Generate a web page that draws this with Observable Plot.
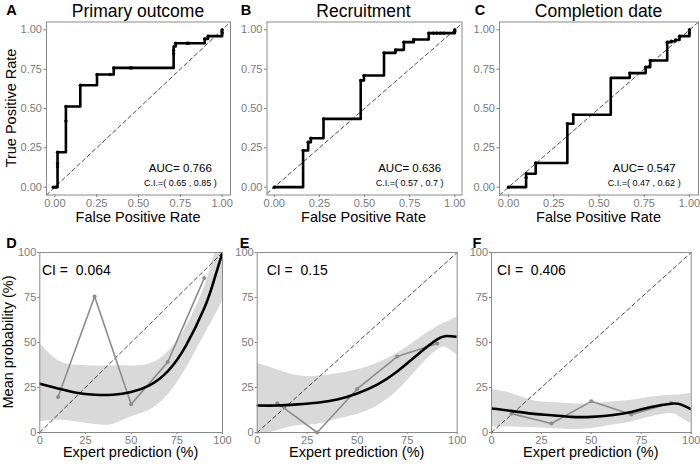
<!DOCTYPE html>
<html><head><meta charset="utf-8">
<script src="https://cdn.jsdelivr.net/npm/d3@7"></script>
<script src="https://cdn.jsdelivr.net/npm/@observablehq/plot@0.6"></script>
<style>
body{margin:0;background:#fff;}
#root{position:relative;width:700px;height:464px;overflow:hidden;background:#fff;}
</style></head><body><div id="root"></div>
<script>
// ---------- DATA ----------
const rocTicks = [0, 0.25, 0.5, 0.75, 1];
const calTicks = [0, 25, 50, 75, 100];

// ROC A: Primary outcome (step corners)
const rocFprA = [0, 0.016, 0.066, 0.152, 0.252, 0.352, 0.71, 0.722, 0.896, 0.916, 1];
const rocTprA = [0, 0.222, 0.513, 0.648, 0.716, 0.758, 0.894, 0.915, 0.943, 0.96, 1];
const dotFprA = [-0.01, 0.005, 0.016, 0.016, 0.016, 0.066, 0.066, 0.152, 0.252, 0.33, 0.352, 0.45, 0.46, 0.71, 0.71, 0.722, 0.79, 0.8, 0.896, 0.916, 1, 1];
const dotTprA = [0, 0, 0.13, 0.15, 0.222, 0.42, 0.513, 0.648, 0.716, 0.716, 0.758, 0.758, 0.758, 0.847, 0.869, 0.915, 0.915, 0.915, 0.943, 0.96, 0.98, 1];

// ROC B: Recruitment
const rocFprB = [0, 0.16, 0.188, 0.203, 0.273, 0.479, 0.497, 0.608, 0.672, 0.718, 0.773, 0.856, 1];
const rocTprB = [0, 0.233, 0.286, 0.311, 0.434, 0.678, 0.71, 0.854, 0.873, 0.922, 0.939, 0.979, 1];
const dotFprB = [0, 0.16, 0.188, 0.203, 0.273, 0.479, 0.497, 0.608, 0.672, 0.718, 0.773, 0.856, 0.88, 0.9, 0.92, 0.94, 1, 1];
const dotTprB = [0, 0.233, 0.286, 0.311, 0.434, 0.678, 0.71, 0.854, 0.873, 0.922, 0.939, 0.979, 0.979, 0.979, 0.979, 0.979, 0.99, 1];

// ROC C: Completion date
const rocFprC = [0, 0.097, 0.15, 0.325, 0.358, 0.565, 0.67, 0.758, 0.783, 0.877, 0.9, 0.923, 0.945, 1];
const rocTprC = [0, 0.085, 0.153, 0.403, 0.46, 0.695, 0.725, 0.763, 0.805, 0.922, 0.928, 0.936, 0.96, 1];
const dotFprC = [0, 0.097, 0.097, 0.15, 0.325, 0.358, 0.67, 0.758, 0.783, 0.877, 0.9, 0.923, 0.945, 1, 1];
const dotTprC = [0, 0.06, 0.085, 0.153, 0.403, 0.46, 0.725, 0.763, 0.805, 0.922, 0.928, 0.936, 0.96, 0.98, 1];

const aucLabels = ["AUC= 0.766", "AUC= 0.636", "AUC= 0.547"];
const aucCiLabels = ["C.I.=( 0.65 , 0.85 )", "C.I.=( 0.57 , 0.7 )", "C.I.=( 0.47 , 0.62 )"];

// Calibration panels
const calX = [10, 30, 50, 70, 90];
const obsD = [19.7, 75.5, 15.7, 39.1, 85.8];
const obsE = [16.3, 0, 24.2, 42.2, 49.5];
const obsF = [10.5, 5, 17.3, 10, 16.4];

const smoothX = [0, 10, 20, 30, 40, 50, 60, 70, 80, 90, 95, 100];
const fitD = [27.1, 24.4, 22.1, 21, 21, 22.5, 26.2, 34, 48.3, 69, 83.4, 100];
const hiD  = [49.6, 40, 37.3, 37, 37, 37, 38, 44.6, 58.5, 80.6, 97, 110];
const loD  = [6, 7, 6, 4.5, 4.5, 8.7, 12.4, 20.7, 35.4, 53.9, 63, 73.2];
const fitE = [15, 15, 15.6, 16.5, 18.3, 21.7, 26.6, 33.9, 43.1, 51.7, 53.6, 53.2];
const hiE  = [38.5, 34.9, 31.6, 31.2, 32.7, 34.9, 38.5, 44, 51.4, 58.7, 61.5, 64.2];
const loE  = [-2, 1, 3.7, 4.6, 7.3, 10, 14.7, 23, 34.9, 45.9, 46.8, 43.1];
const fitF = [13.3, 12, 10.5, 9.6, 8.7, 8.7, 9.6, 11.4, 14.2, 16, 15.5, 12.9];
const hiF  = [24, 21.6, 17.9, 16.6, 16, 16, 17, 17.9, 19.7, 20.7, 21, 21.6];
const loF  = [3.1, 3.1, 2.8, 2.2, 1.7, 2.2, 4, 5.9, 8.7, 10.5, 8, 5];

const ciLabels = ["CI = \u00a00.064", "CI = \u00a00.15", "CI = \u00a00.406"];

const panelTitles = ["Primary outcome", "Recruitment", "Completion date"];
const panelLetters = ["A", "B", "C", "D", "E", "F"];

// ---------- DRAWING ----------
const FONT = '"Liberation Sans", Arial, Helvetica, sans-serif';
const root = document.getElementById("root");
const TICK_COLOR = "#7a7a7a";
const FRAME_COLOR = "#8a8a8a";

function place(el, left, top) {
  el.style.position = "absolute";
  el.style.left = left + "px";
  el.style.top = top + "px";
  root.appendChild(el);
}
function label(text, cx, cy, size, opts = {}) {
  const d = document.createElement("div");
  d.textContent = text;
  d.style.cssText = `position:absolute;left:${cx}px;top:${cy}px;font-family:${FONT};font-size:${size}px;font-weight:${opts.bold ? "bold" : "normal"};line-height:1;white-space:nowrap;color:#000;transform:translate(-50%,-50%)${opts.rotate ? " rotate(-90deg)" : ""};`;
  root.appendChild(d);
}

function rocPanel(o) {
  const line = o.fpr.map((f, i) => ({f, t: o.tpr[i]}));
  const dots = o.dotF.map((f, i) => ({f, t: o.dotT[i]}));
  const [x0, x1] = o.xDomain;
  const fig = Plot.plot({
    width: o.width, height: 225,
    marginLeft: o.mL, marginRight: o.mR, marginTop: 21.5, marginBottom: 30.5,
    style: {fontFamily: FONT, fontSize: "11px", color: TICK_COLOR, background: "transparent", overflow: "visible"},
    x: {domain: o.xDomain, ticks: rocTicks, tickFormat: d3.format(".2f"), tickSize: 2.5, tickPadding: 2, label: null},
    y: {domain: [-0.05, 1.05], ticks: rocTicks, tickFormat: d3.format(".2f"), tickSize: 2.5, tickPadding: 2, label: null},
    marks: [
      Plot.line([[x0, x0], [x1, x1]], {stroke: "#000", strokeWidth: 0.7, strokeDasharray: "4,3"}),
      Plot.line(line, {x: "f", y: "t", curve: "step-after", stroke: "#000", strokeWidth: 2.6}),
      Plot.dot(dots, {x: "f", y: "t", r: 1.7, fill: "#000"}),
      Plot.text([o.auc], {x: 0.75, y: 0.12, text: d => d, fontSize: 11.5, fill: "#000"}),
      Plot.text([o.ci], {x: 0.75, y: 0.025, text: d => d, fontSize: 9, fill: "#000"}),
      Plot.frame({stroke: FRAME_COLOR})
    ]
  });
  place(fig, o.left, 0);
}

function calPanel(o) {
  const fit = smoothX.map((x, i) => ({x, y: o.fit[i], lo: o.lo[i], hi: o.hi[i]}));
  const obs = calX.map((x, i) => ({x, y: o.obs[i]}));
  const fig = Plot.plot({
    width: o.width, height: 239,
    marginLeft: o.mL, marginRight: o.mR, marginTop: 27, marginBottom: 32,
    style: {fontFamily: FONT, fontSize: "11px", color: TICK_COLOR, background: "transparent", overflow: "visible"},
    x: {domain: [0, 100], ticks: calTicks, tickSize: 2, tickPadding: 1.5, label: null},
    y: {domain: [0, 100], ticks: calTicks, tickSize: 2, tickPadding: 1.5, label: null},
    marks: [
      Plot.areaY(fit, {x: "x", y1: "lo", y2: "hi", fill: "#d9d9d9", curve: "natural", clip: true}),
      Plot.line([[0, 0], [100, 100]], {stroke: "#000", strokeWidth: 0.7, strokeDasharray: "4,3"}),
      Plot.line(obs, {x: "x", y: "y", stroke: "#8c8c8c", strokeWidth: 1.6}),
      Plot.dot(obs, {x: "x", y: "y", r: 2, fill: "#8c8c8c"}),
      Plot.line(fit, {x: "x", y: "y", stroke: "#000", strokeWidth: 2.6, curve: "natural", clip: true}),
      Plot.text([o.ci], {x: 20, y: 90, text: d => d, fontSize: 14, fill: "#000"}),
      Plot.frame({stroke: FRAME_COLOR})
    ]
  });
  place(fig, o.left, 225);
}

rocPanel({fpr: rocFprA, tpr: rocTprA, dotF: dotFprA, dotT: dotTprA, auc: aucLabels[0], ci: aucCiLabels[0],
  left: 0, width: 235, mL: 46, mR: 5, xDomain: [-0.05, 1.05]});
rocPanel({fpr: rocFprB, tpr: rocTprB, dotF: dotFprB, dotT: dotTprB, auc: aucLabels[1], ci: aucCiLabels[1],
  left: 235, width: 230, mL: 31.5, mR: 3.5, xDomain: [-0.04, 1.04]});
rocPanel({fpr: rocFprC, tpr: rocTprC, dotF: dotFprC, dotT: dotTprC, auc: aucLabels[2], ci: aucCiLabels[2],
  left: 465, width: 235, mL: 34, mR: 2, xDomain: [-0.05, 1.05]});

calPanel({fit: fitD, lo: loD, hi: hiD, obs: obsD, ci: ciLabels[0], left: 0, width: 235, mL: 39.3, mR: 13});
calPanel({fit: fitE, lo: loE, hi: hiE, obs: obsE, ci: ciLabels[1], left: 235, width: 230, mL: 21.7, mR: 8.3});
calPanel({fit: fitF, lo: loF, hi: hiF, obs: obsF, ci: ciLabels[2], left: 465, width: 235, mL: 26, mR: 9.3});

// Titles, letters, axis titles
const topCenters = [138, 363.5, 598.5];
const botCenters = [130.6, 356.7, 590.8];
panelTitles.forEach((t, i) => label(t, topCenters[i], 11.5, 17.5));
[[11.5, 10], [246, 10], [480, 10], [11.5, 243], [244.5, 243], [477, 243]]
  .forEach(([x, y], i) => label(panelLetters[i], x, y, 14.5, {bold: true}));
topCenters.forEach(c => label("False Positive Rate", c, 216.5, 14.5));
botCenters.forEach(c => label("Expert prediction (%)", c, 452, 14.5));
label("True Positive Rate", 10.5, 108, 14.5, {rotate: true});
label("Mean probability (%)", 8, 342, 14.5, {rotate: true});
</script></body></html>
